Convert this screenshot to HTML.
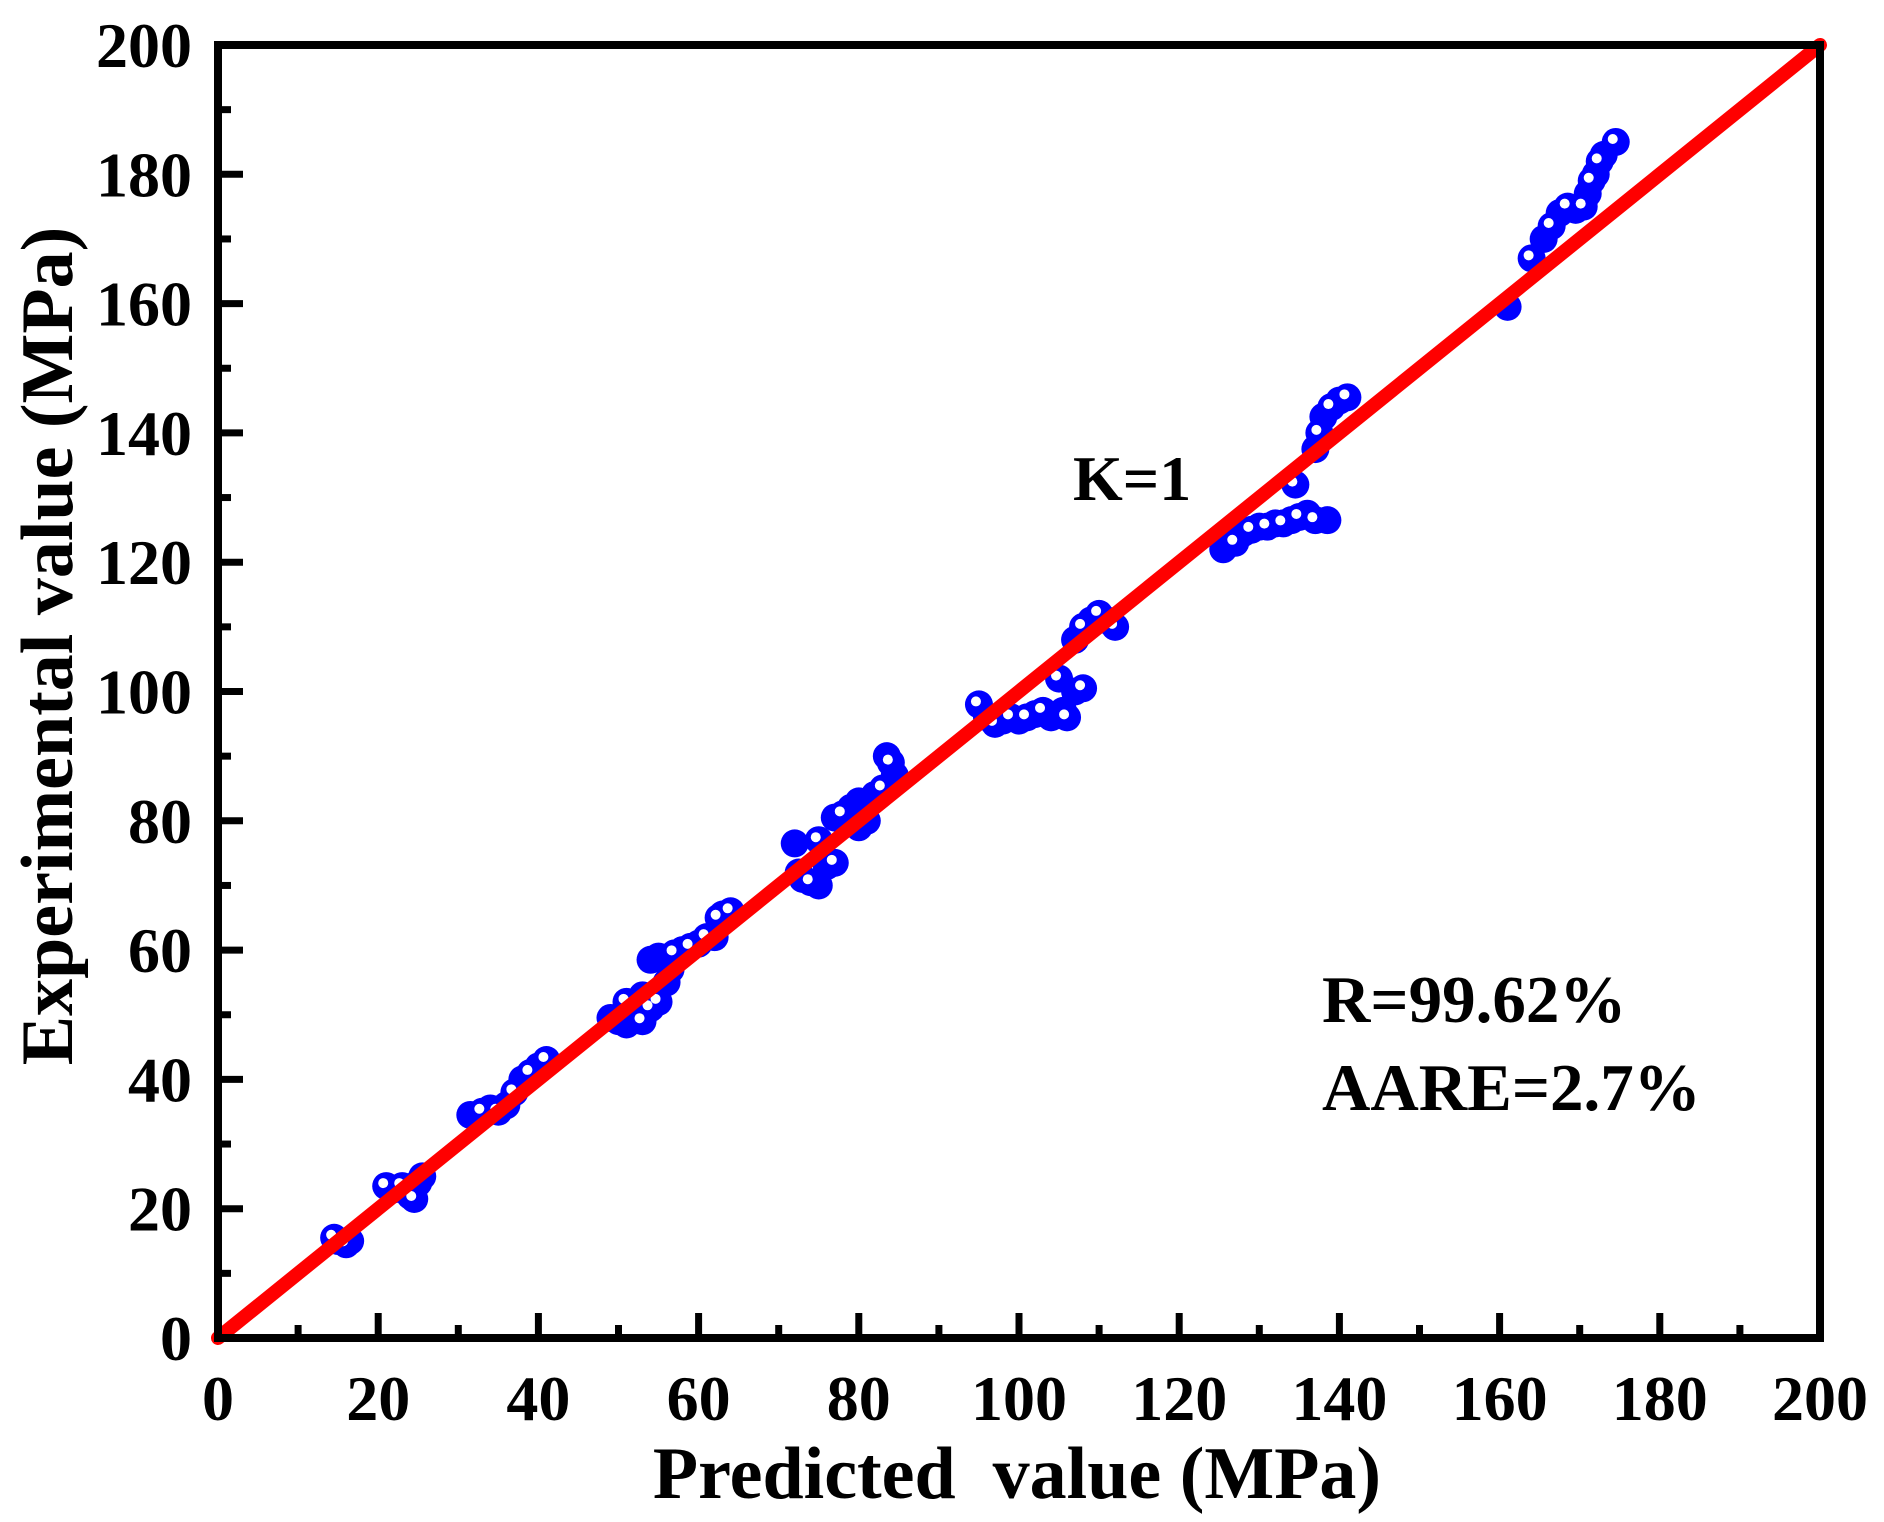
<!DOCTYPE html>
<html><head><meta charset="utf-8"><style>
html,body{margin:0;padding:0;background:#fff}
svg{display:block}
text{font-family:"Liberation Serif",serif;font-weight:bold;fill:#000}
</style></head><body>
<svg id="chart" width="1884" height="1522" viewBox="0 0 1884 1522">
<g id="points"></g>
<line id="kline" stroke="#ff0000" stroke-width="14" stroke-linecap="round"/>
<g id="axes"></g>
<text x="1073" y="500" font-size="64">K=1</text>
<text x="1322" y="1022" font-size="67">R=99.62%</text>
<text x="1322" y="1110" font-size="67">AARE=2.7%</text>
<text x="1017" y="1498" font-size="74" text-anchor="middle" xml:space="preserve">Predicted  value (MPa)</text>
<text transform="translate(72,646) rotate(-90)" font-size="74" text-anchor="middle">Experimental value (MPa)</text>
</svg>
<script>
const xTicks=[0,20,40,60,80,100,120,140,160,180,200];
const yTicks=[0,20,40,60,80,100,120,140,160,180,200];
const predicted=[14.5,15,16,16.5,21,22,23,24,24.5,25,25.5,31.5,33,34,35,36,37,38,39,40,41,
49,50,51,51,52,53,53,54,54,55,55,56,56.5,57,58,59,60,61,62,62.5,63,64,
72,72.5,73,74,75,75,76,77,77,78,79,80,80,81,82,83,83.5,84,84.5,
95,96,97,98,99,100,101,102,103,104,105,105.5,106,107,108,107,108,109,110,111,112,
125.5,127,128,129,130,131,132,133,134,135,136,137,138.5,134.5,137,137.5,138,139,140,141,
161,164,165.5,166.5,167.5,168.5,169.5,170.5,171,171.5,172,172.5,173,174.5];
const experimental=[15.5,15,14.5,15,23.5,23,23.5,22,21.5,24,25,34.5,35,35.5,35,36,38,40,41,42,43,
49.5,49,48.5,52,50,49,53,51,58.5,52,59,55,57,59.5,60,60.5,61,62,62,65,65.5,66,
76.5,72,71,70.5,70,77,73,73.5,80.5,81,82,79,83,80,84,85,90,89,87,
98,96,95,95.5,96,95.5,96,96.5,97,96,102,97,96,100,100.5,108,110,111,112,111,110,
122,123,124.5,125,125.5,125.5,126,126,126.5,127,127.5,126.5,126.5,132,137.5,140,142.5,144,145,145.5,
159.5,167,170,172,174,175,174.5,175,177,179,180,182,183,185];
const X0=218,X1=1820,Y0=1338,Y1=45;
const sx=v=>X0+(X1-X0)*v/200, sy=v=>Y0-(Y0-Y1)*v/200;
const NS="http://www.w3.org/2000/svg";
const pg=document.getElementById('points');
for(let i=0;i<predicted.length;i++){
  const c=document.createElementNS(NS,'circle');
  c.setAttribute('cx',sx(predicted[i]));c.setAttribute('cy',sy(experimental[i]));
  c.setAttribute('r',14);c.setAttribute('fill','#0000ff');
  
  
  pg.appendChild(c);
}
for(let i=0;i<predicted.length;i+=2){
  const h=document.createElementNS(NS,'circle');
  h.setAttribute('cx',sx(predicted[i])-3);h.setAttribute('cy',sy(experimental[i])-3);
  h.setAttribute('r',5);h.setAttribute('fill','#fff');
  
  
  pg.appendChild(h);
}
const kl=document.getElementById('kline');
kl.setAttribute('x1',sx(0));kl.setAttribute('y1',sy(0));kl.setAttribute('x2',sx(200));kl.setAttribute('y2',sy(200));
const ax=document.getElementById('axes');
const r=document.createElementNS(NS,'rect');
r.setAttribute('x',X0);r.setAttribute('y',Y1);r.setAttribute('width',X1-X0);r.setAttribute('height',Y0-Y1);
r.setAttribute('fill','none');r.setAttribute('stroke','#000');r.setAttribute('stroke-width','8');


ax.appendChild(r);
function ln(x1,y1,x2,y2,name){const l=document.createElementNS(NS,'line');
l.setAttribute('x1',x1);l.setAttribute('y1',y1);l.setAttribute('x2',x2);l.setAttribute('y2',y2);
l.setAttribute('stroke','#000');l.setAttribute('stroke-width','7');


ax.appendChild(l);}
function tx(x,y,s,anchor,name){const t=document.createElementNS(NS,'text');
t.setAttribute('x',x);t.setAttribute('y',y);t.setAttribute('font-size','64');t.setAttribute('text-anchor',anchor);t.textContent=s;


ax.appendChild(t);}
for(let v=0;v<=200;v+=10){
  const major=v%20===0, L=major?25:13;
  ln(sx(v),Y0,sx(v),Y0-L,'x-tick');
  ln(X0,sy(v),X0+L,sy(v),'y-tick');
}
xTicks.forEach(v=>tx(sx(v),1420,String(v),'middle','x-tick-label'));
yTicks.forEach(v=>tx(192,sy(v)+22,String(v),'end','y-tick-label'));
</script>
</body></html>
